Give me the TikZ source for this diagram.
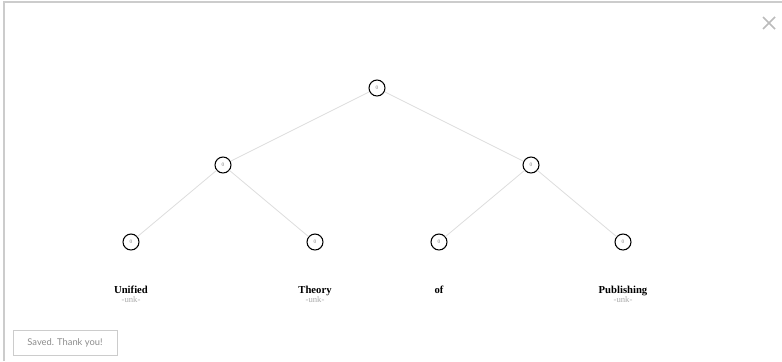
\documentclass[tikz,border=0pt]{standalone}
\usepackage{fontspec}
\setmainfont{Liberation Serif}
\newfontfamily\uifont{Lato}
\usetikzlibrary{positioning}
\definecolor{edgegray}{HTML}{DDDDDD}
\definecolor{framegray}{HTML}{CCCCCC}
\definecolor{unkgray}{HTML}{AAAAAA}
\newcommand{\unkword}{\\[-2pt]{\mdseries\fontsize{6.5pt}{7pt}\selectfont\color{unkgray}-unk-}}

\begin{document}
\begin{tikzpicture}[x=0.75pt,y=-0.75pt,
    edge from parent/.style={draw=edgegray,line width=0.6pt},
    level 1/.style={sibling distance=231pt},
    level 2/.style={sibling distance=138pt},
    level distance=57.75pt,
   every node/.style={circle,draw=black,line width=0.8pt,fill=white,minimum size=12pt,inner sep=0pt,
       font=\fontsize{4pt}{4pt}\selectfont,text=gray},
   word/.style={rectangle,draw=none,fill=none,minimum size=0pt,align=center,text=black,
       font=\fontsize{8pt}{9pt}\selectfont\bfseries}]

\useasboundingbox (0,0) rectangle (782,361);
\draw[framegray,line width=1.5pt] (4,361) |- (782,1.5);

\node (top) at (377,88) {0}
    child {node (nl) {0}
        child {node (w1) {0}}
        child {node (w2) {0}}
    }
    child {node (nr) {0}
        child {node (w3) {0}}
        child {node (w4) {0}}
    };

\node[word,below=26pt of w1,anchor=north] (t1) {Unified\unkword};
\node[word,below=26pt of w2,anchor=north] (t2) {Theory\unkword};
\node[word,below=26pt of w3,anchor=north] (t3) {of};
\node[word,below=26pt of w4,anchor=north] (t4) {Publishing\unkword};

\node[rectangle,draw=framegray,line width=0.6pt,fill=white,minimum width=78pt,minimum height=18.75pt,
    font=\uifont\fontsize{7pt}{8pt}\selectfont,text=gray!90] (saved) at (65,342.5) {Saved. Thank you!};

% close mark
\draw[unkgray!80,line width=1.1pt] (763,17) -- (775,29) (775,17) -- (763,29);

\end{tikzpicture}
\end{document}
